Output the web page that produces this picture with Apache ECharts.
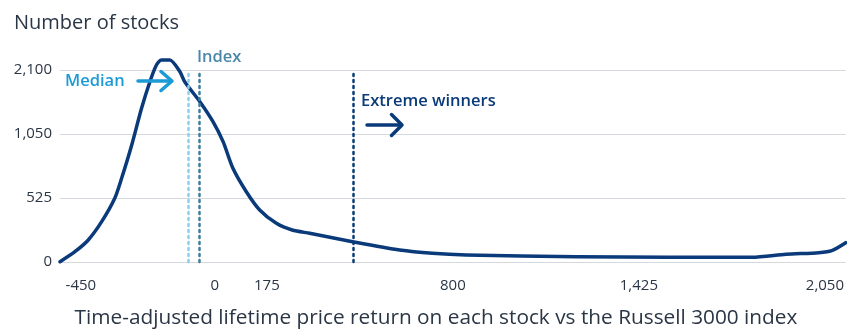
<!DOCTYPE html>
<html>
<head>
<meta charset="utf-8">
<style>
  html, body { margin: 0; padding: 0; background: #fff; }
  #main { width: 847px; height: 331px; }
</style>
<script src="https://cdn.jsdelivr.net/npm/echarts@6/dist/echarts.min.js"></script>
</head>
<body>
<div id="main"></div>
<script>
// return vs index (%) and number of stocks
var returns = [-520, -470, -425, -380, -336, -313, -279, -246, -218, -196, -179, -151, -117, -101, -50, -6, 28, 61, 106, 151, 207, 260, 319, 463, 621, 731, 845, 1214, 1526, 1805, 1919, 2029, 2073, 2120];
var stocks = [3, 113, 241, 441, 697, 915, 1280, 1681, 1972, 2155, 2209, 2209, 2081, 1972, 1753, 1535, 1316, 1025, 769, 569, 423, 350, 314, 222, 131, 95, 77, 58, 51, 51, 84, 102, 124, 211];

var xTicks = [-450, 0, 175, 800, 1425, 2050];
var yTicks = ['0', '525', '1,050', '2,100'];
var medianX = -90;
var indexX = -53;
var winnersX = 466;

var navy = '#0a3a7a';
var textCol = '#2a3646';
var font = '"Open Sans", "Noto Sans", sans-serif';

var chart = echarts.init(document.getElementById('main'));

var pts = returns.map(function (x, i) { return [x, stocks[i]]; });

var option = {
  animation: false,
  textStyle: { fontFamily: font },
  grid: { left: 60, right: 0, top: 70, bottom: 69 },
  xAxis: {
    type: 'value',
    min: -520,
    max: 2120,
    axisLine: { show: false },
    axisTick: { show: false },
    splitLine: { show: false },
    axisLabel: {
      customValues: xTicks,
      margin: 16,
      color: textCol,
      fontSize: 15,
      fontFamily: font,
      formatter: function (v) { return v.toLocaleString('en-US'); }
    }
  },
  yAxis: {
    type: 'value',
    min: 0,
    max: 2100,
    interval: 700,
    axisLine: { show: false },
    axisTick: { show: false },
    splitLine: { lineStyle: { color: '#d5d8dd', width: 1 } },
    axisLabel: {
      margin: 8,
      color: textCol,
      fontSize: 15,
      fontFamily: font,
      formatter: function (v) { return yTicks[Math.round(v / 700)]; }
    }
  },
  series: [{
    type: 'line',
    data: pts,
    showSymbol: false,
    smooth: 0.25,
    clip: false,
    lineStyle: { color: navy, width: 3.5, cap: 'round', join: 'round' },
    markLine: {
      silent: true,
      symbol: ['none', 'none'],
      label: { show: false },
      data: [
        { xAxis: medianX, lineStyle: { color: '#8dcdee', type: [2, 4], width: 2.5, cap: 'round' } },
        { xAxis: indexX, lineStyle: { color: '#3e7c9c', type: [2, 4], width: 2.5, cap: 'round' } },
        { xAxis: winnersX, lineStyle: { color: navy, type: [2, 4], width: 2.5, cap: 'round' } }
      ]
    },
    z: 3
  }],
  graphic: [
    { type: 'text', x: 14, y: 23, style: { text: 'Number of stocks', fill: textCol, font: '20px ' + font, textVerticalAlign: 'middle' } },
    { type: 'text', x: 436, y: 318, style: { text: 'Time-adjusted lifetime price return on each stock vs the Russell 3000 index', fill: textCol, font: '20.8px ' + font, textAlign: 'center', textVerticalAlign: 'middle' } },
    { type: 'text', x: 65, y: 81, style: { text: 'Median', fill: '#1b9ad6', font: '600 16.5px ' + font, textVerticalAlign: 'middle' } },
    { type: 'line', shape: { x1: 138, y1: 81, x2: 171, y2: 81 }, style: { stroke: '#1b9ad6', lineWidth: 3.5, lineCap: 'round' }, z: 10 },
    { type: 'polyline', shape: { points: [[161, 71.5], [172, 81], [161, 90.5]] }, style: { stroke: '#1b9ad6', fill: null, lineWidth: 3.5, lineCap: 'round', lineJoin: 'round' }, z: 10 },
    { type: 'text', x: 197, y: 57, style: { text: 'Index', fill: '#4a87aa', font: '600 16.5px ' + font, textVerticalAlign: 'middle' } },
    { type: 'text', x: 361, y: 101, style: { text: 'Extreme winners', fill: navy, font: '600 16.5px ' + font, textVerticalAlign: 'middle' } },
    { type: 'line', shape: { x1: 367, y1: 125, x2: 401, y2: 125 }, style: { stroke: navy, lineWidth: 3.5, lineCap: 'round' }, z: 10 },
    { type: 'polyline', shape: { points: [[391.5, 114.5], [402, 125], [391.5, 135.5]] }, style: { stroke: navy, fill: null, lineWidth: 3.5, lineCap: 'round', lineJoin: 'round' }, z: 10 }
  ]
};

chart.setOption(option);
</script>
</body>
</html>
